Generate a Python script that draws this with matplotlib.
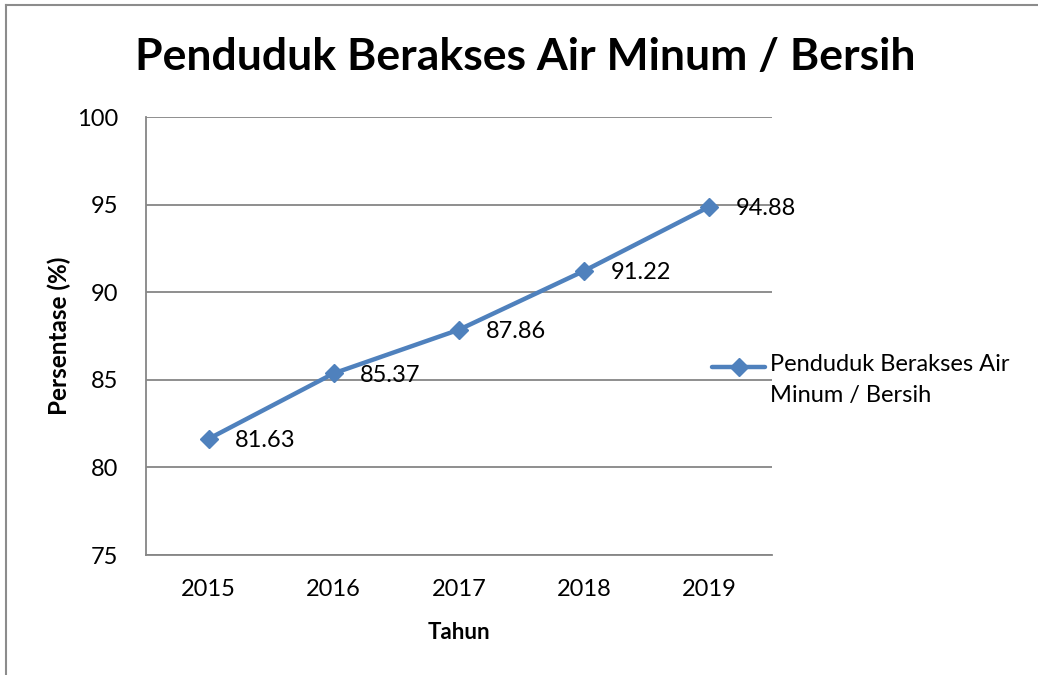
import matplotlib
matplotlib.use("Agg")
import matplotlib.pyplot as plt
from matplotlib.lines import Line2D

years = ["2015", "2016", "2017", "2018", "2019"]
values = [81.63, 85.37, 87.86, 91.22, 94.88]
yticks = [75, 80, 85, 90, 95, 100]
series_name = "Penduduk Berakses Air\nMinum / Bersih"

plt.rcParams['font.family'] = ['Lato', 'DejaVu Sans']
W, H = 1038, 675
fig = plt.figure(figsize=(W / 100, H / 100), dpi=100)
ax = fig.add_axes([146 / W, 1 - 555 / H, (772 - 146) / W, (555 - 117) / H])

color = "#4F81BD"
x = list(range(len(years)))
ax.plot(x, values, color=color, lw=3.2, marker='D', ms=9, solid_capstyle='round',
        zorder=3, clip_on=False)
for xi, v in zip(x, values):
    ax.annotate(f"{v:.2f}", (xi, v), xytext=(19, -1.5), textcoords='offset points',
                ha='left', va='center', fontsize=17, color='black', zorder=4)

ax.set_xlim(-0.5, len(years) - 0.5)
ax.set_ylim(75, 100)
ax.set_yticks(yticks)
ax.set_xticks(x)
ax.set_xticklabels(years)
ax.tick_params(axis='both', length=0, labelsize=17, colors='black')
ax.tick_params(axis='y', pad=20)
ax.tick_params(axis='x', pad=17)
ax.grid(axis='y', color='#868686', lw=1.3)
ax.set_axisbelow(True)
for s in ['top', 'right']:
    ax.spines[s].set_visible(False)
for s in ['left', 'bottom']:
    ax.spines[s].set_color('#868686')
    ax.spines[s].set_linewidth(1.3)

ax.set_xlabel("Tahun", fontsize=16, fontweight='bold', labelpad=16)
ax.set_ylabel("Persentase (%)", fontsize=17.5, fontweight='bold', labelpad=4)

fig.text(525 / W, 1 - 57 / H, "Penduduk Berakses Air Minum / Bersih", ha='center',
         va='center', fontsize=32, fontweight='bold')

# legend drawn manually: handle aligned with first text line
ly = 1 - 367 / H
fig.add_artist(Line2D([712 / W, 765 / W], [ly, ly], transform=fig.transFigure,
                      color=color, lw=3.2, solid_capstyle='round'))
fig.add_artist(Line2D([738.5 / W], [ly], transform=fig.transFigure, color=color,
                      marker='D', ms=9, lw=0))
fig.text(770 / W, 1 - 354 / H, series_name, ha='left', va='top', fontsize=17,
         linespacing=1.6)

fig.add_artist(Line2D([6 / W, 6 / W], [0, 1 - 5 / H], transform=fig.transFigure,
                      color='#8c8c8c', lw=1.5))
fig.add_artist(Line2D([6 / W, 1], [1 - 5 / H, 1 - 5 / H], transform=fig.transFigure,
                      color='#8c8c8c', lw=1.5))

fig.savefig("out.png", dpi=100, facecolor='white')
